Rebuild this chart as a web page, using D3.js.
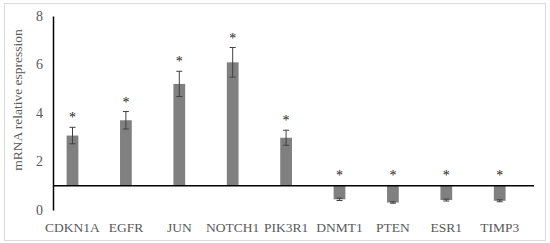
<!DOCTYPE html>
<html>
<head>
<meta charset="utf-8">
<script src="https://cdn.jsdelivr.net/npm/d3@7"></script>
<style>
  body { margin: 0; background: #fff; }
  text { font-family: "Liberation Serif", "Times New Roman", serif; }
</style>
</head>
<body>
<div id="chart"></div>
<script>
// values (fold change, baseline = 1)
const genes = ['CDKN1A', 'EGFR', 'JUN', 'NOTCH1', 'PIK3R1', 'DNMT1', 'PTEN', 'ESR1', 'TIMP3'];
const expression = [3.07, 3.70, 5.20, 6.09, 2.98, 0.44, 0.31, 0.41, 0.38];
const errors = [0.34, 0.36, 0.52, 0.61, 0.31, 0.05, 0.03, 0.04, 0.04];
const yTicks = [0, 2, 4, 6, 8];
const baseline = 1;

const w = 550, h = 243;
const plot = {left: 53, right: 534, top: 16, bottom: 210};

const svg = d3.select("#chart")
    .append("svg")
    .attr("width", w)
    .attr("height", h);

// chart frame
svg.append("rect")
    .attr("x", 4.5).attr("y", 3.5)
    .attr("width", 541).attr("height", 237)
    .attr("fill", "#fff")
    .attr("stroke", "#d9d9d9");

let x = d3.scaleBand()
    .domain(genes)
    .range([45.8, 526.4])
    .paddingInner(0.78)
    .paddingOuter(0.39);

let y = d3.scaleLinear()
    .domain([0, 8])
    .range([plot.bottom, plot.top]);

// y axis
let yAxis = svg.append("g")
    .attr("transform", "translate(" + plot.left + ",0)")
    .call(d3.axisLeft(y).tickValues(yTicks).tickSize(0).tickPadding(10));
yAxis.select(".domain").attr("stroke", "#000").attr("stroke-width", 1.5);
yAxis.selectAll("text")
    .attr("fill", "#595959")
    .style("font-size", "14px")
    .style("font-family", "Liberation Serif, serif");

svg.append("text")
    .attr("transform", "translate(22," + 100 + ") rotate(-90)")
    .attr("text-anchor", "middle")
    .attr("fill", "#595959")
    .style("font-size", "13.5px")
    .text("mRNA relative espression");

// bars from baseline
svg.append("g")
    .selectAll("rect")
    .data(genes)
    .enter()
    .append("rect")
    .attr("x", d => x(d))
    .attr("width", x.bandwidth())
    .attr("y", (d, i) => y(Math.max(expression[i], baseline)))
    .attr("height", (d, i) => Math.abs(y(expression[i]) - y(baseline)))
    .attr("fill", "#808080");

// error bars
let err = svg.append("g")
    .attr("stroke", "#404040")
    .attr("stroke-width", 1);
genes.forEach(function (g, i) {
    let cx = x(g) + x.bandwidth() / 2;
    let hi = y(expression[i] + errors[i]), lo = y(expression[i] - errors[i]);
    err.append("line").attr("x1", cx).attr("x2", cx).attr("y1", hi).attr("y2", lo);
    err.append("line").attr("x1", cx - 3).attr("x2", cx + 3).attr("y1", hi).attr("y2", hi);
    err.append("line").attr("x1", cx - 3).attr("x2", cx + 3).attr("y1", lo).attr("y2", lo);
});

// significance stars
svg.append("g")
    .selectAll("text")
    .data(genes)
    .enter()
    .append("text")
    .attr("x", d => x(d) + x.bandwidth() / 2)
    .attr("y", (d, i) => expression[i] > baseline
        ? y(expression[i] + errors[i]) - 5
        : y(baseline) - 6)
    .attr("text-anchor", "middle")
    .attr("fill", "#222")
    .style("font-size", "14px")
    .text("*");

// horizontal axis line at value 1
svg.append("line")
    .attr("x1", plot.left).attr("x2", plot.right)
    .attr("y1", y(baseline)).attr("y2", y(baseline))
    .attr("stroke", "#000")
    .attr("stroke-width", 1.5);

// category labels
svg.append("g")
    .selectAll("text")
    .data(genes)
    .enter()
    .append("text")
    .attr("x", d => x(d) + x.bandwidth() / 2)
    .attr("y", 232)
    .attr("text-anchor", "middle")
    .attr("fill", "#595959")
    .style("font-size", "13.5px")
    .text(d => d);
</script>
</body>
</html>
